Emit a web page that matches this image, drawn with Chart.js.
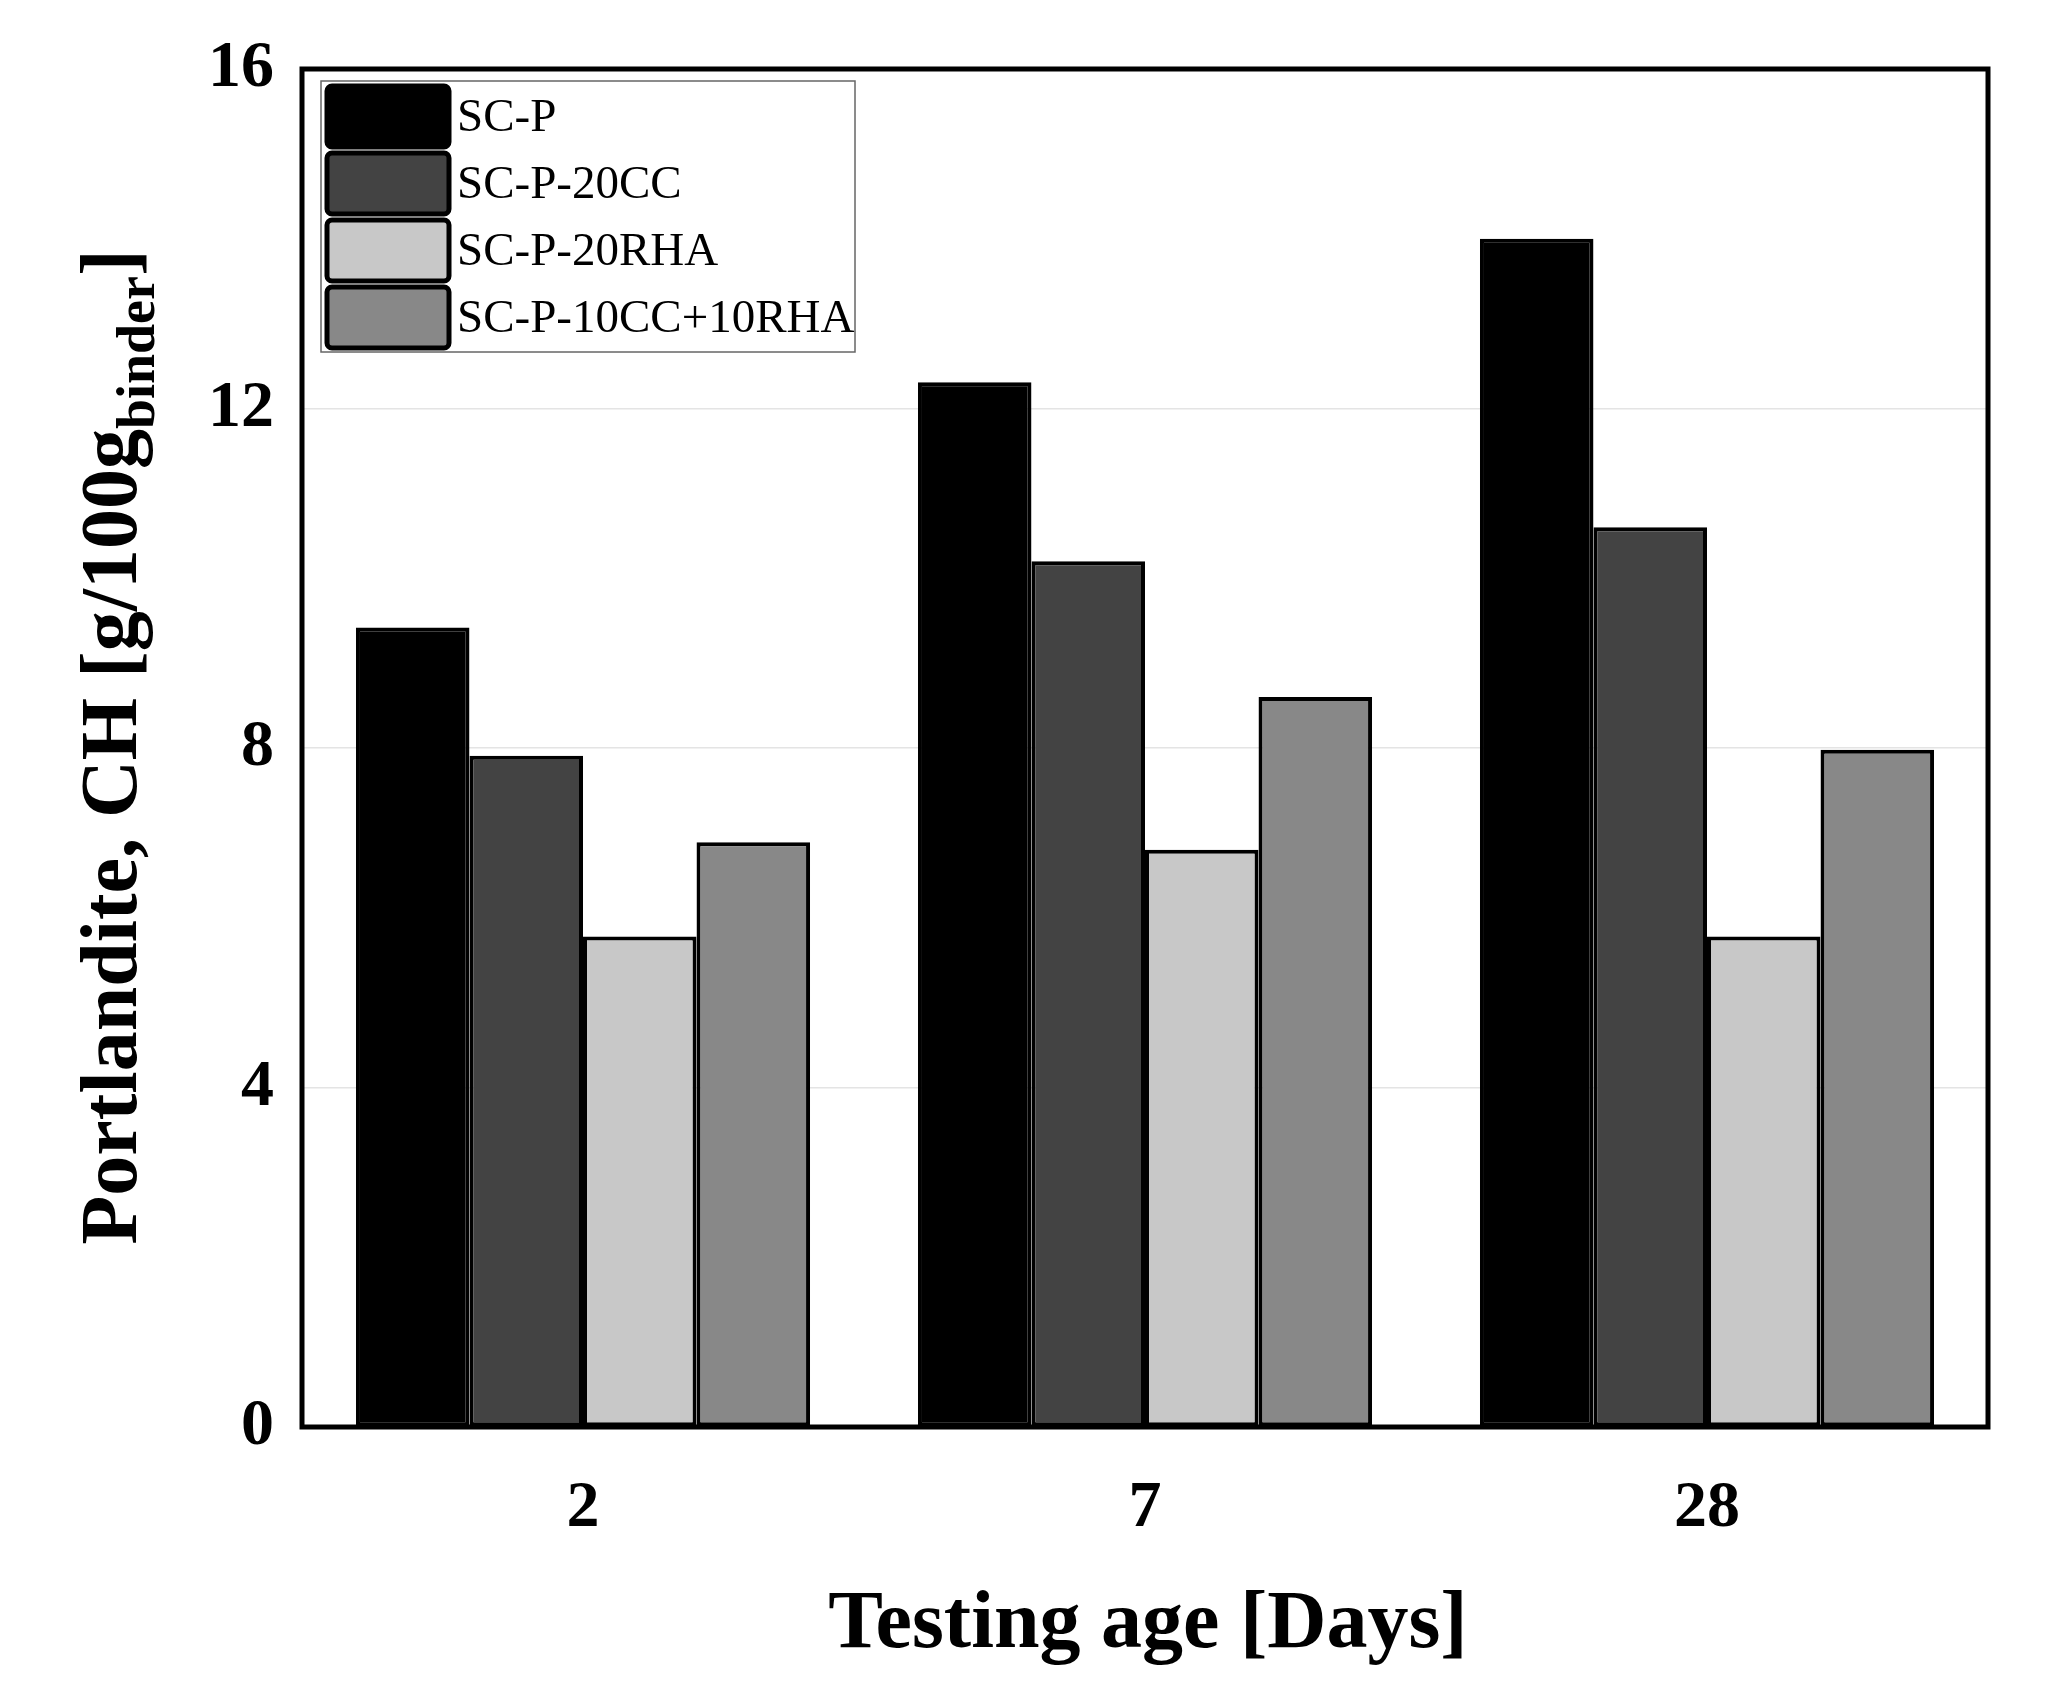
<!DOCTYPE html>
<html>
<head>
<meta charset="utf-8">
<script src="https://cdn.jsdelivr.net/npm/chart.js@4.4.1/dist/chart.umd.min.js"></script>
<style>
  html, body { margin: 0; padding: 0; background: #fff; }
  #wrap { width: 2047px; height: 1702px; position: relative; }
</style>
</head>
<body>
<div id="wrap"><canvas id="chart" width="2047" height="1702"></canvas></div>
<script>
/* --- Data --- */
const ages = ['2', '7', '28'];
const seriesNames = ['SC-P', 'SC-P-20CC', 'SC-P-20RHA', 'SC-P-10CC+10RHA'];
const scP = [9.42, 12.31, 14.0];
const scP20CC = [7.91, 10.2, 10.6];
const scP20RHA = [5.78, 6.8, 5.78];
const scP10CC10RHA = [6.89, 8.6, 7.98];
const yTicks = [0, 4, 8, 12, 16];

const FILLS = ['#000000', '#434343', '#c8c8c8', '#888888'];
const SERIF = "'Liberation Serif', 'Times New Roman', serif";

/* --- Plot frame: black border around chart area --- */
const framePlugin = {
  id: 'frame',
  afterDraw(chart) {
    const { ctx, chartArea: a } = chart;
    ctx.save();
    ctx.strokeStyle = '#000';
    ctx.lineWidth = 5;
    ctx.strokeRect(a.left, a.top, a.right - a.left, a.bottom - a.top);
    ctx.restore();
  }
};

/* --- Legend drawn inside the plot, top-left --- */
const insideLegend = {
  id: 'insideLegend',
  afterDraw(chart) {
    const { ctx } = chart;
    const boxX = 321, boxY = 81, boxW = 534, boxH = 271;
    ctx.save();
    ctx.fillStyle = '#fff';
    ctx.fillRect(boxX, boxY, boxW, boxH);
    ctx.strokeStyle = '#666';
    ctx.lineWidth = 1.5;
    ctx.strokeRect(boxX, boxY, boxW, boxH);
    chart.data.datasets.forEach((ds, i) => {
      const y = 86 + i * 67;
      ctx.beginPath();
      ctx.roundRect(327, y, 122, 61, 5);
      ctx.fillStyle = ds.backgroundColor;
      ctx.fill();
      ctx.lineWidth = 5;
      ctx.strokeStyle = '#000';
      ctx.stroke();
      ctx.fillStyle = '#000';
      ctx.font = '47px ' + SERIF;
      ctx.textBaseline = 'middle';
      ctx.textAlign = 'left';
      ctx.fillText(ds.label, 457, y + 33);
    });
    ctx.restore();
  }
};

/* --- Axis titles (y title has a subscript) --- */
const titlesPlugin = {
  id: 'titles',
  afterDraw(chart) {
    const { ctx } = chart;
    ctx.save();
    ctx.fillStyle = '#000';
    // x title
    ctx.font = 'bold 82px ' + SERIF;
    ctx.textAlign = 'center';
    ctx.textBaseline = 'alphabetic';
    ctx.fillText('Testing age [Days]', 1148, 1647);

    // y title, rotated
    const main = 'Portlandite, CH [g/100g';
    const sub = 'binder';
    const end = ']';
    const mainFont = 'bold 80px ' + SERIF;
    const subFont = 'bold 54px ' + SERIF;
    ctx.font = mainFont;
    const wMain = ctx.measureText(main).width;
    const wEnd = ctx.measureText(end).width;
    ctx.font = subFont;
    const wSub = ctx.measureText(sub).width;
    const total = wMain + wSub + wEnd;
    ctx.translate(0, 747);
    ctx.rotate(-Math.PI / 2);
    ctx.textAlign = 'left';
    let x = -total / 2;
    ctx.font = mainFont;
    ctx.fillText(main, x, 136);
    x += wMain;
    ctx.font = subFont;
    ctx.fillText(sub, x, 154);
    x += wSub;
    ctx.font = mainFont;
    ctx.fillText(end, x, 136);
    ctx.restore();
  }
};

const datasets = [scP, scP20CC, scP20RHA, scP10CC10RHA].map((data, i) => ({
  label: seriesNames[i],
  data,
  backgroundColor: FILLS[i],
  borderColor: '#000',
  borderWidth: 4,
  borderSkipped: false,
  barPercentage: 1.0,
  categoryPercentage: 0.808
}));

new Chart(document.getElementById('chart'), {
  type: 'bar',
  data: { labels: ages, datasets },
  plugins: [framePlugin, insideLegend, titlesPlugin],
  options: {
    responsive: false,
    animation: false,
    devicePixelRatio: 1,
    layout: { padding: { left: 0, top: 69, right: 59, bottom: 0 } },
    plugins: {
      legend: { display: false },
      tooltip: { enabled: false },
      title: { display: false }
    },
    scales: {
      x: {
        grid: { display: false, drawTicks: false },
        border: { display: false },
        ticks: {
          color: '#000',
          padding: 42,
          font: { family: SERIF, size: 66, weight: 'bold' }
        },
        afterFit(scale) { scale.height = 275; }
      },
      y: {
        min: 0,
        max: 16,
        afterBuildTicks(scale) {
          scale.ticks = yTicks.map(v => ({ value: v }));
        },
        grid: {
          drawTicks: false,
          color: ctx => (ctx.tick && (ctx.tick.value === 0 || ctx.tick.value === 16)) ? 'rgba(0,0,0,0)' : '#e4e4e4',
          lineWidth: 1.5
        },
        border: { display: false },
        ticks: {
          color: '#000',
          padding: 28,
          font: { family: SERIF, size: 66, weight: 'bold' }
        },
        afterFit(scale) { scale.width = 302; }
      }
    }
  }
});
</script>
</body>
</html>
